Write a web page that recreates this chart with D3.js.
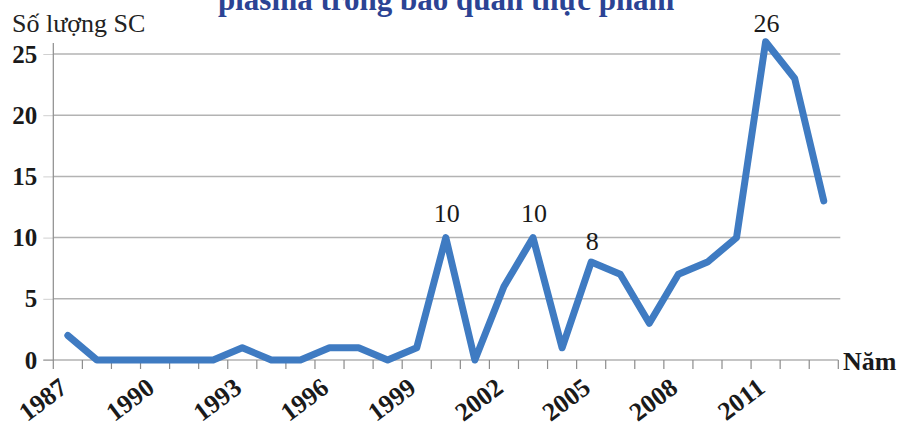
<!DOCTYPE html>
<html>
<head>
<meta charset="utf-8">
<script src="https://cdn.jsdelivr.net/npm/d3@7"></script>
<style>
  body { margin: 0; background: #fff; }
  svg { display: block; font-family: "Liberation Serif", "Times New Roman", serif; }
</style>
</head>
<body>
<div id="chart"></div>
<script>
// so luong sang che theo nam
var years = [1987, 1988, 1989, 1990, 1991, 1992, 1993, 1994, 1995, 1996, 1997, 1998, 1999, 2000,
             2001, 2002, 2003, 2004, 2005, 2006, 2007, 2008, 2009, 2010, 2011, 2012, 2013];
var counts = [2, 0, 0, 0, 0, 0, 1, 0, 0, 1, 1, 0, 1, 10,
              0, 6, 10, 1, 8, 7, 3, 7, 8, 10, 26, 23, 13];
var yTicks = [0, 5, 10, 15, 20, 25];
var xLabelYears = [1987, 1990, 1993, 1996, 1999, 2002, 2005, 2008, 2011];
var labeledYears = [2000, 2003, 2005, 2011];

var width = 910, height = 427;
var plotLeft = 53.3, plotRight = 838.3, plotTop = 54, plotBottom = 360;
var blue = "#3f7bc2";
// how far each value label sits above its point
var labelLift = {2000: 16, 2003: 16, 2005: 12, 2011: 10};

var svg = d3.select("#chart")
    .append("svg")
    .attr("width", width)
    .attr("height", height)

var x = d3.scaleBand().domain(years).range([plotLeft, plotRight]);
var y = d3.scaleLinear().domain([0, 25]).range([plotBottom, plotTop]);

// title (cut off at the top like the source)
svg.append("text")
    .attr("x", 218)
    .attr("y", 10)
    .attr("fill", "#2b4394")
    .style("font-weight", "bold")
    .style("font-size", "31px")
    .text("plasma trong bảo quản thực phẩm")

svg.append("text")
    .attr("x", 12)
    .attr("y", 32)
    .attr("fill", "#222")
    .style("font-size", "26px")
    .text("Số lượng SC")

// gridlines
svg.append("g")
    .selectAll("line")
    .data(yTicks.filter(function(d) { return d > 0; }))
    .join("line")
    .attr("x1", plotLeft)
    .attr("x2", plotRight + 2)
    .attr("y1", function(d) { return y(d); })
    .attr("y2", function(d) { return y(d); })
    .attr("stroke", "#b3b3b3")
    .attr("stroke-width", 1.5)

// y axis
var yAxis = svg.append("g")
    .attr("transform", "translate(" + plotLeft + ",0)")
    .call(d3.axisLeft(y).tickValues(yTicks).tickSize(10).tickPadding(6))
yAxis.select(".domain").remove();
yAxis.selectAll(".tick line").attr("stroke", "#d0d0d0");
yAxis.selectAll(".tick text")
    .attr("fill", "#1a1a1a")
    .style("font-family", "Liberation Serif, serif")
    .style("font-weight", "bold")
    .style("font-size", "25px")
svg.append("line")
    .attr("x1", plotLeft).attr("x2", plotLeft)
    .attr("y1", 43).attr("y2", plotBottom)
    .attr("stroke", "#8c8c8c")
    .attr("stroke-width", 1.2)

// x axis: ticks at band edges
var edges = years.map(function(d) { return x(d); }).concat([plotRight]);
svg.append("g")
    .selectAll("line")
    .data(edges)
    .join("line")
    .attr("x1", function(d) { return d; })
    .attr("x2", function(d) { return d; })
    .attr("y1", plotBottom)
    .attr("y2", plotBottom + 9)
    .attr("stroke", "#8c8c8c")
    .attr("stroke-width", 1.2)
svg.append("line")
    .attr("x1", plotLeft - 10).attr("x2", plotRight)
    .attr("y1", plotBottom).attr("y2", plotBottom)
    .attr("stroke", "#8c8c8c")
    .attr("stroke-width", 1.2)

svg.append("g")
    .selectAll("text")
    .data(xLabelYears)
    .join("text")
    .attr("transform", function(d) {
        return "translate(" + (x(d) + x.bandwidth() / 2 + 1) + "," + (plotBottom + 31) + ") rotate(-37)";
    })
    .attr("text-anchor", "end")
    .attr("fill", "#1a1a1a")
    .style("font-weight", "bold")
    .style("font-size", "26px")
    .text(function(d) { return d; })

svg.append("text")
    .attr("x", 843)
    .attr("y", 370)
    .attr("fill", "#1a1a1a")
    .style("font-weight", "bold")
    .style("font-size", "26px")
    .text("Năm")

// the series
var line = d3.line()
    .x(function(d, i) { return x(years[i]) + x.bandwidth() / 2; })
    .y(function(d) { return y(d); })

svg.append("path")
    .datum(counts)
    .attr("d", line)
    .attr("fill", "none")
    .attr("stroke", blue)
    .attr("stroke-width", 7)
    .attr("stroke-linejoin", "round")
    .attr("stroke-linecap", "round")

// data labels
svg.append("g")
    .selectAll("text")
    .data(labeledYears)
    .join("text")
    .attr("x", function(d) { return x(d) + x.bandwidth() / 2 + 1; })
    .attr("y", function(d) { return y(counts[years.indexOf(d)]) - labelLift[d]; })
    .attr("text-anchor", "middle")
    .attr("fill", "#1a1a1a")
    .style("font-size", "26px")
    .text(function(d) { return counts[years.indexOf(d)]; })
</script>
</body>
</html>
